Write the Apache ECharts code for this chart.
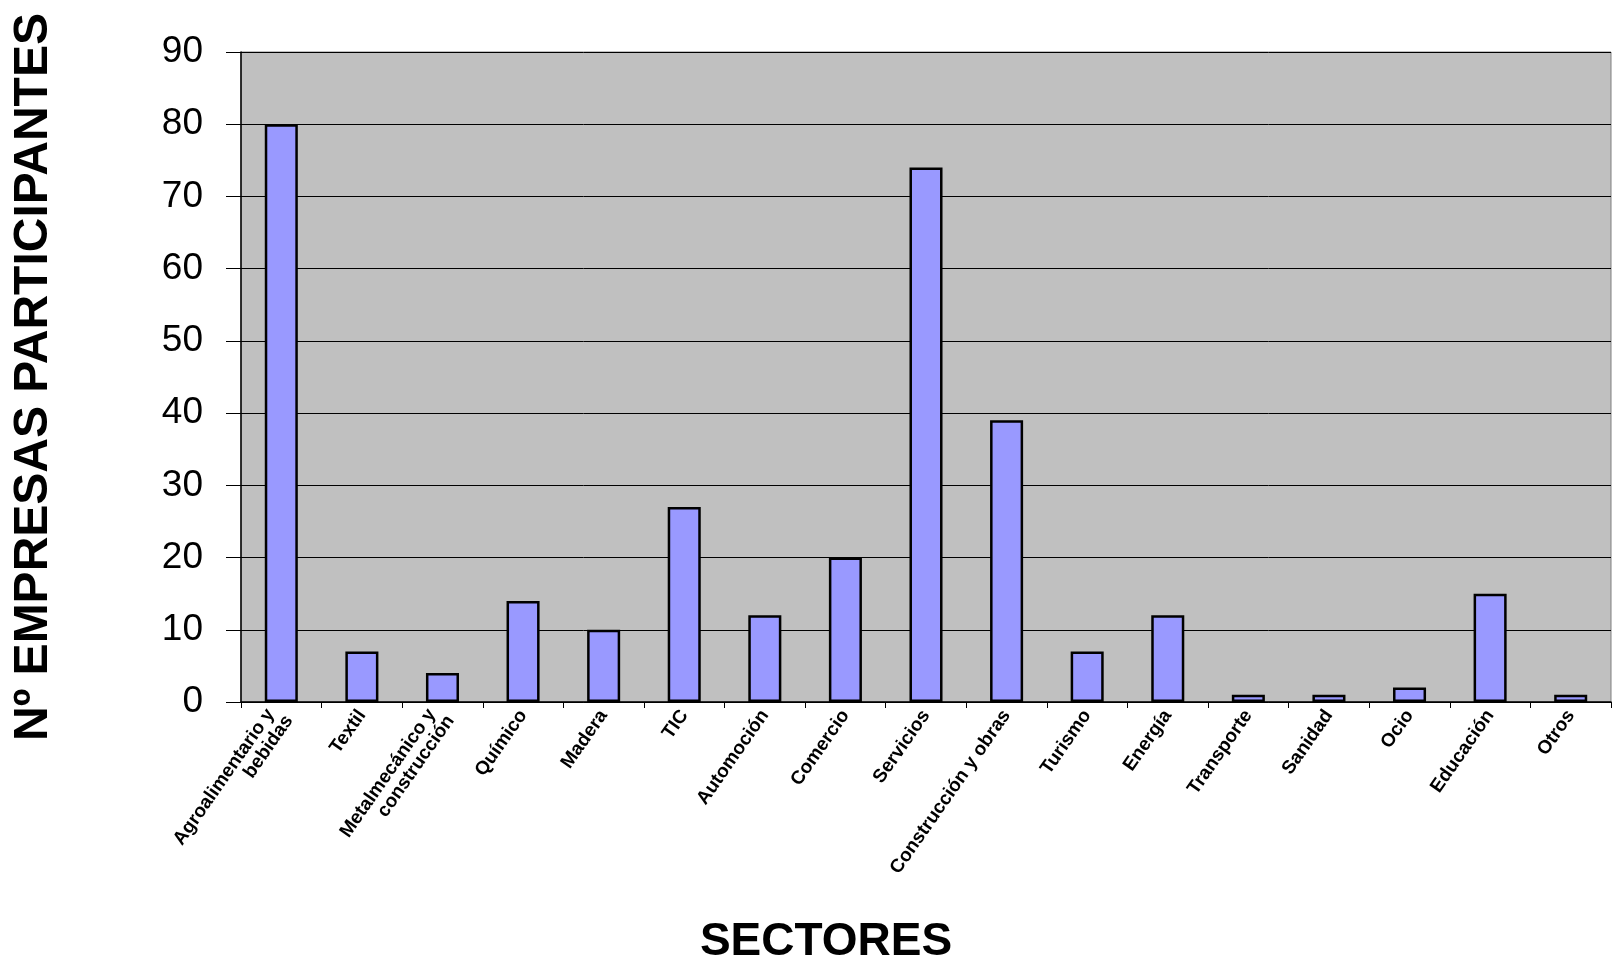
<!DOCTYPE html>
<html>
<head>
<meta charset="utf-8">
<script src="https://cdn.jsdelivr.net/npm/echarts@6/dist/echarts.min.js"></script>
<style>
html,body{margin:0;padding:0;background:#fff;}
#main{width:1616px;height:970px;}
</style>
</head>
<body>
<div id="main"></div>
<script>
const categories = [
  "Agroalimentario y bebidas",
  "Textil",
  "Metalmecánico y construcción",
  "Químico",
  "Madera",
  "TIC",
  "Automoción",
  "Comercio",
  "Servicios",
  "Construcción y obras",
  "Turismo",
  "Energía",
  "Transporte",
  "Sanidad",
  "Ocio",
  "Educación",
  "Otros"
];
const empresas = [80, 7, 4, 14, 10, 27, 12, 20, 74, 39, 7, 12, 1, 1, 2, 15, 1];
const yTicks = [0, 10, 20, 30, 40, 50, 60, 70, 80, 90];

const chart = echarts.init(document.getElementById('main'));
chart.setOption({
  animation: false,
  backgroundColor: '#ffffff',
  textStyle: { fontFamily: 'Liberation Sans, Arial, sans-serif' },
  grid: {
    left: 241, right: 5, top: 52, bottom: 264,
    show: true, backgroundColor: '#C0C0C0', borderColor: '#808080', borderWidth: 1
  },
  xAxis: {
    type: 'category',
    data: categories,
    name: 'SECTORES',
    nameLocation: 'middle',
    nameGap: 240,
    nameTextStyle: { fontSize: 46, fontWeight: 'bold', color: '#000', verticalAlign: 'middle', padding: [0, 200, 0, 0] },
    axisLine: { show: true, lineStyle: { color: '#000', width: 1.5 } },
    axisTick: { show: true, length: 6, lineStyle: { color: '#000' } },
    axisLabel: {
      interval: 0, rotate: 55, color: '#000', fontWeight: 'bold', fontSize: 19,
      margin: 10, width: 220, overflow: 'break', lineHeight: 19
    },
    splitLine: { show: false }
  },
  yAxis: {
    type: 'value',
    min: yTicks[0], max: yTicks[yTicks.length - 1], interval: 10,
    name: 'Nº EMPRESAS PARTICIPANTES',
    nameLocation: 'middle',
    nameGap: 207,
    nameRotate: 90,
    nameTextStyle: { fontSize: 48, fontWeight: 'bold', color: '#000', verticalAlign: 'middle' },
    axisLine: { show: true, lineStyle: { color: '#000', width: 1.5 } },
    axisTick: { show: true, inside: false, length: 15, lineStyle: { color: '#000' } },
    axisLabel: { fontSize: 37, color: '#000', margin: 38 },
    splitLine: { show: true, lineStyle: { color: '#000', width: 1 } }
  },
  series: [{
    type: 'bar',
    data: empresas,
    barWidth: '41%',
    itemStyle: { color: '#9999FF', borderColor: '#000', borderWidth: 2.5 }
  }]
});
</script>
</body>
</html>
